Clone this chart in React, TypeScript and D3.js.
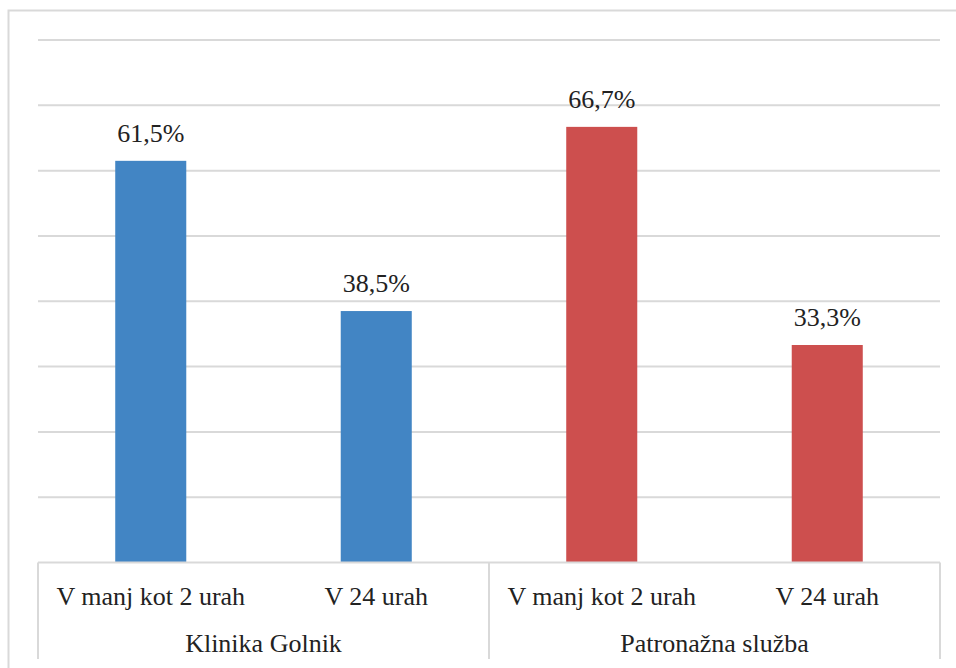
import React from "react";
import * as d3 from "d3";

const groups = ["Klinika Golnik", "Patronažna služba"];
const categories = ["V manj kot 2 urah", "V 24 urah"];
const golnikValues = [61.5, 38.5];
const patronaznaValues = [66.7, 33.3];
const groupColors = ["#4285C4", "#CD4F4E"];
const yTicks = [0, 10, 20, 30, 40, 50, 60, 70, 80];

const W = 956;
const H = 668;
const plot = { left: 38, right: 940, top: 40, bottom: 562.5 };
const FONT = '"Liberation Serif", "DejaVu Serif"';
const GRID = "#d9d9d9";

export default function App() {
  const rows = [golnikValues, patronaznaValues].flatMap((vals, gi) =>
    vals.map((v, ci) => ({
      key: `${gi}-${ci}`,
      group: gi,
      cat: categories[ci],
      value: v,
    }))
  );

  const x = d3
    .scaleBand<string>()
    .domain(rows.map((r) => r.key))
    .range([plot.left, plot.right])
    .paddingInner(0.685)
    .paddingOuter(0.3425);

  const y = d3.scaleLinear().domain([0, 80]).range([plot.bottom, plot.top]);

  const fmt = (v: number) => v.toFixed(1).replace(".", ",") + "%";
  const textProps = { fontFamily: FONT, fontSize: 26, fill: "#222" };

  return (
    <svg
      width={W}
      height={H}
      style={{ position: "absolute", left: 0, top: 0, background: "#fff" }}
    >
      {/* outer chart frame */}
      <rect x={8.5} y={10.5} width={W + 10} height={H + 10} fill="none" stroke={GRID} strokeWidth={2} />

      {/* horizontal gridlines */}
      {yTicks.slice(1).map((t) => (
        <line key={t} x1={plot.left} x2={plot.right} y1={y(t)} y2={y(t)} stroke={GRID} strokeWidth={2} />
      ))}

      {/* bars */}
      {rows.map((r) => (
        <rect
          key={r.key}
          x={x(r.key)}
          y={y(r.value)}
          width={x.bandwidth()}
          height={y(0) - y(r.value)}
          fill={groupColors[r.group]}
        />
      ))}

      {/* value labels */}
      {rows.map((r) => (
        <text
          key={"l" + r.key}
          x={(x(r.key) as number) + x.bandwidth() / 2}
          y={y(r.value) - 19}
          textAnchor="middle"
          {...textProps}
        >
          {fmt(r.value)}
        </text>
      ))}

      {/* category axis baseline */}
      <line x1={plot.left} x2={plot.right} y1={plot.bottom} y2={plot.bottom} stroke={GRID} strokeWidth={2} />

      {/* group separators */}
      {[0, 1, 2].map((i) => {
        const xx = plot.left + ((plot.right - plot.left) / 2) * i;
        return (
          <line key={"s" + i} x1={xx} x2={xx} y1={plot.bottom} y2={H - 9} stroke={GRID} strokeWidth={2} />
        );
      })}

      {/* category labels */}
      {rows.map((r) => (
        <text
          key={"c" + r.key}
          x={(x(r.key) as number) + x.bandwidth() / 2}
          y={605}
          textAnchor="middle"
          {...textProps}
        >
          {r.cat}
        </text>
      ))}

      {/* group labels */}
      {groups.map((g, gi) => {
        const cx = plot.left + (plot.right - plot.left) / 4 + ((plot.right - plot.left) / 2) * gi;
        return (
          <text key={"g" + gi} x={cx} y={652} textAnchor="middle" {...textProps}>
            {g}
          </text>
        );
      })}
    </svg>
  );
}
